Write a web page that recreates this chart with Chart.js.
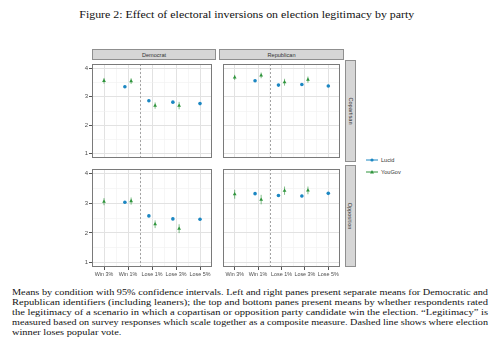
<!DOCTYPE html>
<html>
<head>
<meta charset="utf-8">
<script src="https://cdn.jsdelivr.net/npm/chart.js@4.4.1/dist/chart.umd.min.js"></script>
<style>
  html, body { margin: 0; padding: 0; background: #fff; }
  body { width: 493px; height: 348px; position: relative; overflow: hidden; }
  .abs { position: absolute; }
  .title { left: 0; width: 493px; top: 8px; text-align: center; font: 11px "Liberation Serif", "Times New Roman", serif; color: #111; }
  .title span { display: inline-block; white-space: nowrap; transform-origin: center; }
  .strip { background: #d6d6d6; border: 1px solid #8f8f8f; box-sizing: border-box;
           font: 5.6px "Liberation Sans", Arial, sans-serif; color: #333; display: flex; align-items: center; justify-content: center; }
  .strip.side span { transform: rotate(90deg); white-space: nowrap; }
  .key { font: 5.6px "Liberation Sans", Arial, sans-serif; color: #333; display: flex; align-items: center; }
  .key svg { margin-right: 3px; }
  .caption { left: 12px; width: 476px; top: 287px; font: 9px "Liberation Serif", "Times New Roman", serif; line-height: 10.1px; color: #111; }
  .caption div { height: 10.1px; white-space: nowrap; }
  .caption span { display: inline-block; transform-origin: left center; }
  canvas { display: block; }
</style>
</head>
<body>
<div class="abs title"><span id="title">Figure 2: Effect of electoral inversions on election legitimacy by party</span></div>

<div class="abs strip" style="left:92px;top:49px;width:124px;height:11px">Democrat</div>
<div class="abs strip" style="left:219px;top:49px;width:125px;height:11px">Republican</div>
<div class="abs strip side" style="left:345px;top:60px;width:11px;height:102px"><span>Copartisan</span></div>
<div class="abs strip side" style="left:345px;top:165px;width:11px;height:102px"><span>Opposition</span></div>

<div class="abs" style="left:78px;top:60px"><canvas id="demCop" width="138" height="102"></canvas></div>
<div class="abs" style="left:219px;top:60px"><canvas id="repCop" width="125" height="102"></canvas></div>
<div class="abs" style="left:78px;top:165px"><canvas id="demOpp" width="138" height="116"></canvas></div>
<div class="abs" style="left:219px;top:165px"><canvas id="repOpp" width="125" height="116"></canvas></div>

<div class="abs key" style="left:366px;top:157px">
  <svg width="12" height="6"><line x1="0" y1="3" x2="12" y2="3" stroke="#1c87c2" stroke-width="1"/><circle cx="6" cy="3" r="1.6" fill="#1c87c2"/></svg><span>Lucid</span>
</div>
<div class="abs key" style="left:366px;top:169px">
  <svg width="12" height="6"><line x1="0" y1="3" x2="12" y2="3" stroke="#2f943c" stroke-width="1"/><polygon points="6,1 8,4.6 4,4.6" fill="#2f943c"/></svg><span>YouGov</span>
</div>

<div class="abs caption" id="caption">
  <div><span>Means by condition with 95% confidence intervals. Left and right panes present separate means for Democratic and</span></div>
  <div><span>Republican identifiers (including leaners); the top and bottom panes present means by whether respondents rated</span></div>
  <div><span>the legitimacy of a scenario in which a copartisan or opposition party candidate win the election. “Legitimacy” is</span></div>
  <div><span>measured based on survey responses which scale together as a composite measure. Dashed line shows where election</span></div>
  <div><span>winner loses popular vote.</span></div>
</div>

<script>
const categories = ['Win 3%', 'Win 1%', 'Lose 1%', 'Lose 3%', 'Lose 5%'];
const xBreaks = [1, 1.5, 2, 2.5, 3, 3.5, 4, 4.5, 5];
const yBreaks = [1, 1.5, 2, 2.5, 3, 3.5, 4];
const inversionAt = 2.5;

// means (null = condition not fielded in that sample)
const lucidDemCop = [null, 3.35, 2.86, 2.81, 2.76];
const yougovDemCop = [3.56, 3.55, 2.69, 2.69, null];
const lucidRepCop = [null, 3.56, 3.41, 3.43, 3.38];
const yougovRepCop = [3.68, 3.75, 3.51, 3.60, null];
const lucidDemOpp = [null, 3.03, 2.57, 2.47, 2.46];
const yougovDemOpp = [3.05, 3.07, 2.29, 2.14, null];
const lucidRepOpp = [null, 3.32, 3.26, 3.24, 3.33];
const yougovRepOpp = [3.30, 3.12, 3.42, 3.43, null];

// half-widths of the 95% intervals
const lucidErr = [null, 0.04, 0.04, 0.04, 0.04];
const yougovErrDemCop = [0.10, 0.10, 0.11, 0.13, null];
const yougovErrRepCop = [0.09, 0.10, 0.12, 0.11, null];
const yougovErrDemOpp = [0.12, 0.12, 0.13, 0.15, null];
const yougovErrRepOpp = [0.15, 0.16, 0.14, 0.13, null];

const LUCID = '#1c87c2';
const YOUGOV = '#2f943c';
const dodge = 0.13;

// the scanned figure is wider than it is tall, so stretch the text to the measured widths
function stretch(el, width, k) {
  const scale = k || width / el.getBoundingClientRect().width;
  el.style.transform = `scaleX(${scale})`;
  return scale;
}
stretch(document.getElementById('title'), 335);
const capLines = [...document.querySelectorAll('#caption span')];
const scales = capLines.slice(0, 4).map(el => stretch(el, 476));
stretch(capLines[4], 0, scales.reduce((a, b) => a + b, 0) / scales.length);

Chart.defaults.font.family = '"Liberation Sans", Arial, sans-serif';
Chart.defaults.font.size = 5.4;
Chart.defaults.color = '#4d4d4d';

function points(vals, errs, other, side) {
  const out = [];
  vals.forEach((v, i) => {
    if (v == null) return;
    const shift = other[i] == null ? 0 : side * dodge;
    out.push({ x: i + 1 + shift, y: v, e: errs[i] });
  });
  return out;
}

const panelPlugin = {
  id: 'panel',
  beforeDatasetsDraw(chart) {
    const { ctx, chartArea: a } = chart;
    const x = chart.scales.x, y = chart.scales.y;
    const px = Math.round(x.getPixelForValue(inversionAt)) + 0.5;
    ctx.save();
    ctx.strokeStyle = '#a3a3a3';
    ctx.lineWidth = 1;
    ctx.setLineDash([2, 2]);
    ctx.beginPath();
    ctx.moveTo(px, a.top);
    ctx.lineTo(px, a.bottom);
    ctx.stroke();
    ctx.setLineDash([]);
    chart.data.datasets.forEach((ds, i) => {
      const meta = chart.getDatasetMeta(i);
      ctx.strokeStyle = ds.barColor;
      meta.data.forEach((pt, j) => {
        const d = ds.data[j];
        ctx.beginPath();
        ctx.moveTo(pt.x, y.getPixelForValue(d.y - d.e));
        ctx.lineTo(pt.x, y.getPixelForValue(d.y + d.e));
        ctx.stroke();
      });
    });
    ctx.restore();
  },
  afterDraw(chart) {
    const { ctx, chartArea: a } = chart;
    ctx.save();
    ctx.strokeStyle = '#7a7a7a';
    ctx.lineWidth = 1;
    ctx.strokeRect(a.left + 0.5, a.top + 0.5, a.right - a.left - 1, a.bottom - a.top - 1);
    ctx.restore();
  },
};

const isMajor = v => Math.abs(v - Math.round(v)) < 1e-6;

function renderPanel(id, lucid, yougov, yougovErr, showY, showX) {
  new Chart(document.getElementById(id), {
    type: 'scatter',
    data: {
      datasets: [{
        label: 'Lucid',
        data: points(lucid, lucidErr, yougov, -1),
        backgroundColor: LUCID,
        borderWidth: 0,
        pointStyle: 'circle',
        pointRadius: 1.8,
        barColor: LUCID,
      }, {
        label: 'YouGov',
        data: points(yougov, yougovErr, lucid, 1),
        backgroundColor: YOUGOV,
        borderWidth: 0,
        pointStyle: 'triangle',
        pointRadius: 2.2,
        barColor: 'rgba(47, 148, 60, 0.6)',
      }],
    },
    options: {
      responsive: false,
      animation: false,
      events: [],
      layout: { padding: 0 },
      plugins: { legend: { display: false }, tooltip: { enabled: false } },
      scales: {
        x: {
          type: 'linear',
          min: 0.5,
          max: 5.5,
          afterBuildTicks: s => { s.ticks = xBreaks.map(v => ({ value: v })); },
          afterFit: s => { s.height = showX ? 14 : 0; s.paddingLeft = s.paddingRight = 0; },
          border: { display: false },
          grid: {
            color: c => isMajor(c.tick.value) ? '#e2e2e2' : '#f0f0f0',
            lineWidth: c => isMajor(c.tick.value) ? 1 : 0.6,
            drawTicks: showX,
            tickLength: 3,
            tickColor: c => isMajor(c.tick.value) ? '#555' : 'rgba(0,0,0,0)',
          },
          ticks: {
            display: showX,
            autoSkip: false,
            maxRotation: 0,
            padding: 1,
            callback: v => isMajor(v) ? categories[Math.round(v) - 1] : '',
          },
        },
        y: {
          min: 0.85,
          max: 4.15,
          afterBuildTicks: s => { s.ticks = yBreaks.map(v => ({ value: v })); },
          afterFit: s => { s.width = showY ? 14 : 0; s.paddingTop = s.paddingBottom = 0; },
          border: { display: false },
          grid: {
            color: c => isMajor(c.tick.value) ? '#e2e2e2' : '#f0f0f0',
            lineWidth: c => isMajor(c.tick.value) ? 1 : 0.6,
            drawTicks: showY,
            tickLength: 3,
            tickColor: c => isMajor(c.tick.value) ? '#555' : 'rgba(0,0,0,0)',
          },
          ticks: {
            display: showY,
            padding: 1,
            font: { size: 6 },
            callback: v => isMajor(v) ? String(Math.round(v)) : '',
          },
        },
      },
    },
    plugins: [panelPlugin],
  });
}

renderPanel('demCop', lucidDemCop, yougovDemCop, yougovErrDemCop, true, false);
renderPanel('repCop', lucidRepCop, yougovRepCop, yougovErrRepCop, false, false);
renderPanel('demOpp', lucidDemOpp, yougovDemOpp, yougovErrDemOpp, true, true);
renderPanel('repOpp', lucidRepOpp, yougovRepOpp, yougovErrRepOpp, false, true);
</script>
</body>
</html>
